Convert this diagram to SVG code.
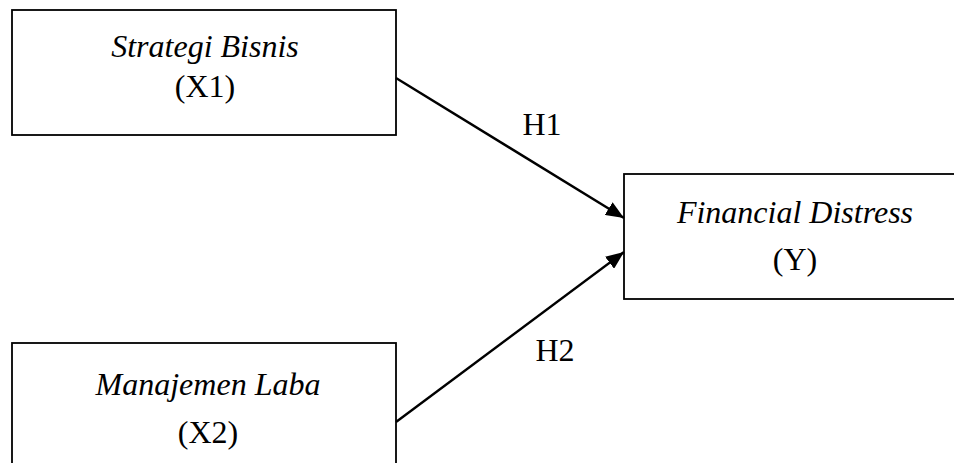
<svg xmlns="http://www.w3.org/2000/svg" width="954" height="463" viewBox="0 0 954 463">
<style>
.box{fill:#fff;stroke:#000;stroke-width:1.8}
.t{font-family:"Liberation Serif","Times New Roman",serif;font-size:32px;fill:#000;text-anchor:middle}
.i{font-style:italic}
.c{stroke:#000;stroke-width:2.4;fill:none}
</style>
<defs>
<marker id="ah" markerUnits="userSpaceOnUse" markerWidth="19" markerHeight="15" refX="18" refY="7.5" orient="auto">
<path d="M0,0 L18,7.5 L0,15 Z" fill="#000"/>
</marker>
</defs>
<rect width="954" height="463" fill="#fff"/>
<g id="x1">
<rect class="box" x="12" y="10" width="384" height="125"/>
<text class="t i" x="205" y="57">Strategi Bisnis</text>
<text class="t" x="205" y="97">(X1)</text>
</g>
<g id="x2">
<rect class="box" x="12" y="343" width="384" height="130"/>
<text class="t i" x="208" y="395">Manajemen Laba</text>
<text class="t" x="208" y="443">(X2)</text>
</g>
<g id="y">
<rect class="box" x="624" y="174" width="342" height="125"/>
<text class="t i" x="795" y="223">Financial Distress</text>
<text class="t" x="795" y="270">(Y)</text>
</g>
<g id="connectors">
<line class="c" x1="396" y1="78" x2="624" y2="218" marker-end="url(#ah)"/>
<line class="c" x1="396" y1="422" x2="624" y2="252" marker-end="url(#ah)"/>
<text class="t" x="542" y="135">H1</text>
<text class="t" x="555" y="361">H2</text>
</g>
</svg>
